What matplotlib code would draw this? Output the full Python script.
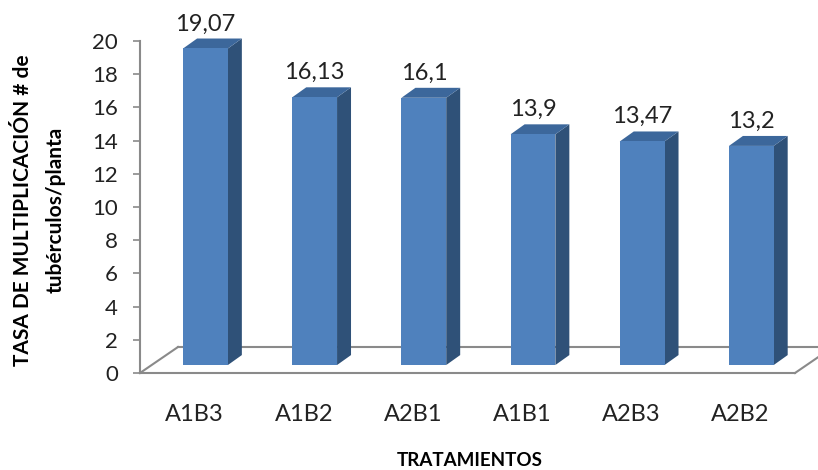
import matplotlib.pyplot as plt
from matplotlib.patches import Polygon

plt.rcParams['font.family'] = ['Lato', 'DejaVu Sans']

tratamientos = ['A1B3', 'A1B2', 'A2B1', 'A1B1', 'A2B3', 'A2B2']
tasa = [19.07, 16.13, 16.1, 13.9, 13.47, 13.2]
etiquetas = ['19,07', '16,13', '16,1', '13,9', '13,47', '13,2']

gris = '#8a8a8a'
c_front = '#4F81BD'
c_top = '#3C679B'
c_side = '#2F5178'

fig = plt.figure(figsize=(8.18, 4.70), dpi=100)
ax = fig.add_axes([140/818, 97/470, 655/818, 332/470])
ax.set_xlim(-0.5, len(tratamientos) - 0.5)
ax.set_ylim(0, 20)

# pseudo 3D offsets (data units)
floor_dx, floor_dy = 0.348, 1.566
front_dx, front_dy = 0.10, 0.48
bar_dx, bar_dy = 0.128, 0.60
half_w = 0.205

# floor
n = len(tratamientos)
x0, x1 = -0.5, n - 0.5
ax.plot([x0, x1], [0, 0], color=gris, lw=1.5, clip_on=False, zorder=1)
ax.plot([x0 + floor_dx, x1 + floor_dx], [floor_dy, floor_dy], color=gris, lw=1.5, clip_on=False, zorder=1)
ax.plot([x0, x0 + floor_dx], [0, floor_dy], color=gris, lw=1.5, clip_on=False, zorder=1)
ax.plot([x1, x1 + floor_dx], [0, floor_dy], color=gris, lw=1.5, clip_on=False, zorder=1)

for i, v in enumerate(tasa):
    l = i - half_w + front_dx
    r = i + half_w + front_dx
    b = front_dy
    t = v + front_dy
    front = Polygon([(l, b), (r, b), (r, t), (l, t)], closed=True, fc=c_front, ec='none', zorder=3, clip_on=False)
    side = Polygon([(r, b), (r + bar_dx, b + bar_dy), (r + bar_dx, t + bar_dy), (r, t)], closed=True,
                   fc=c_side, ec='none', zorder=3, clip_on=False)
    top = Polygon([(l, t), (r, t), (r + bar_dx, t + bar_dy), (l + bar_dx, t + bar_dy)], closed=True,
                  fc=c_top, ec='none', zorder=3, clip_on=False)
    for p in (side, top, front):
        ax.add_patch(p)
    ax.text(i + front_dx, t + bar_dy + 0.25, etiquetas[i], ha='center', va='bottom', fontsize=17, color='#222222')

ax.set_yticks(range(0, 21, 2))
ax.set_xticks(range(n))
ax.set_xticklabels(tratamientos)
ax.tick_params(axis='y', length=5, width=1.2, color=gris, pad=11, labelsize=16, labelcolor='#222222')
ax.tick_params(axis='x', length=0, pad=22, labelsize=17, labelcolor='#222222')

for s in ('top', 'right', 'bottom'):
    ax.spines[s].set_visible(False)
ax.spines['left'].set_color(gris)
ax.spines['left'].set_linewidth(1.5)
ax.patch.set_visible(False)

fig.text(470/818, 1 - 461/470, 'TRATAMIENTOS', ha='center', va='center', fontsize=13.5, fontweight='bold')
fig.text(39/818, 1 - 210/470, 'TASA DE MULTIPLICACIÓN # de\ntubérculos/planta', ha='center', va='center',
         rotation=90, fontsize=15, fontweight='bold', linespacing=1.8)

plt.savefig('out.png', dpi=100)
